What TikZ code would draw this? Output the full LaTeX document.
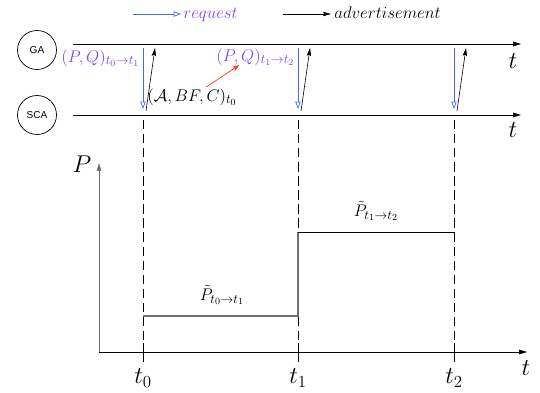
\documentclass[tikz,border=0pt]{standalone}
\usepackage{amsmath,amssymb}
\usepackage{fontspec}
\newfontfamily\agentfont{Liberation Sans}
\usetikzlibrary{arrows.meta,calc}
\definecolor{rqB}{HTML}{3F66FF}
\definecolor{rqT}{HTML}{7F45FF}
\definecolor{hint}{HTML}{FF3A12}
\definecolor{axg}{HTML}{707070}
\tikzset{
  agent/.style={draw, circle, minimum size=39*0.03cm, inner sep=0pt, line width=0.6pt,
    font=\agentfont\fontsize{8.6}{10}\selectfont},
  tline/.style={-{Triangle[length=2.4mm, width=1.4mm]}, line width=0.6pt},
  axis/.style={-{Triangle[length=2.4mm, width=1.4mm]}, line width=0.6pt},
  reqarr/.style={-{Triangle[open, length=2.2mm, width=1.6mm]}, line width=0.6pt, rqB},
  advarr/.style={-{Stealth[length=2.4mm, width=1.3mm, inset=0.4mm]}, line width=0.5pt},
  hintarr/.style={-{Stealth[length=2.2mm, width=1.5mm]}, line width=0.6pt, hint},
  epoch/.style={dashed, dash pattern=on 8pt off 4pt, line width=0.5pt},
  tick/.style={line width=0.6pt},
  lab/.style={font=\fontsize{15.2}{18}\selectfont, inner sep=1pt},
  tlab/.style={font=\huge, inner sep=1pt},
}

\begin{document}
\begin{tikzpicture}[x=0.03cm,y=0.03cm]
\useasboundingbox (0,0) rectangle (540,392);

% ============ legend ========================================================
\coordinate (lgRa) at (133,378);
\coordinate (lgRb) at (181,378);
\draw[reqarr] (lgRa) -- (lgRb);
\node[lab, rqT, anchor=base west] (lgRt) at (182,373) {$request$};
\coordinate (lgAa) at (283,378);
\coordinate (lgAb) at (331,378);
\draw[advarr] (lgAa) -- (lgAb);
\node[lab, anchor=base west] (lgAt) at (333,373) {$advertisement$};

% ============ agents and time lines =========================================
\node[agent] (ga) at (37,342) {GA};
\node[agent] (sca) at (37,277) {SCA};
\coordinate (gaS) at (73,348);
\coordinate (gaE) at (521,348);
\coordinate (scaS) at (73,277);
\coordinate (scaE) at (521,277);
\draw[tline] (gaS) -- (gaE);
\draw[tline] (scaS) -- (scaE);
\node[tlab] (tga) at (513,331) {$t$};
\node[tlab] (tsca) at (513,262) {$t$};

% ============ exchanges at t0, t1, t2 =======================================
\coordinate (rq0a) at (143,344); \coordinate (rq0b) at (143,283);
\coordinate (ad0a) at (146,281); \coordinate (ad0b) at (155,344);
\coordinate (rq1a) at (298,344); \coordinate (rq1b) at (298,283);
\coordinate (ad1a) at (301,281); \coordinate (ad1b) at (310,344);
\coordinate (rq2a) at (454,344); \coordinate (rq2b) at (454,283);
\coordinate (ad2a) at (457,281); \coordinate (ad2b) at (466,344);
\draw[reqarr] (rq0a) -- (rq0b);
\draw[advarr] (ad0a) -- (ad0b);
\draw[reqarr] (rq1a) -- (rq1b);
\draw[advarr] (ad1a) -- (ad1b);
\draw[reqarr] (rq2a) -- (rq2b);
\draw[advarr] (ad2a) -- (ad2b);
\node[lab, rqT, anchor=east] (pq0) at (141,334) {$(P,Q)_{t_0\to t_1}$};
\node[lab, rqT, anchor=east] (pq1) at (296,335) {$(P,Q)_{t_1\to t_2}$};
\node[lab, anchor=west] (abc) at (146,295) {$(\mathcal{A},BF,C)_{t_0}$};
\draw[hintarr] ($(abc.north)+(14,0)$) -- ($(pq1.south)+(-16,2)$);

% ============ power plot ====================================================
\coordinate (org) at (99,40);
\coordinate (pTop) at (99,229);
\coordinate (tEnd) at (527,40);
\draw[axis, axg] (org) -- (pTop);
\draw[axis] (org) -- (tEnd);
\node[tlab] (pl) at (82,228) {$P$};
\node[tlab] (tpl) at (526,24) {$t$};
% epochs
\draw[epoch] (143,272) -- (143,40);
\draw[epoch] (298,272) -- (298,40);
\draw[epoch] (454,272) -- (454,40);
\draw[tick] (143,49) -- (143,30);
\draw[tick] (298,49) -- (298,30);
\draw[tick] (454,49) -- (454,30);
\node[tlab] (lt0) at (143,14) {$t_0$};
\node[tlab] (lt1) at (298,14) {$t_1$};
\node[tlab] (lt2) at (454,14) {$t_2$};
% piecewise constant power
\coordinate (p0) at (143,76);
\coordinate (p1) at (298,76);
\coordinate (p1h) at (298,160);
\coordinate (p2h) at (454,160);
\draw[axg, line width=1.0pt] (p0) -- (p1) -- (p1h);
\draw[line width=0.6pt] (p1h) -- (p2h);
\node[lab] (pt0) at (222,97) {$\tilde{P}_{t_0\to t_1}$};
\node[lab] (pt1) at (376,181) {$\tilde{P}_{t_1\to t_2}$};

\end{tikzpicture}
\end{document}
